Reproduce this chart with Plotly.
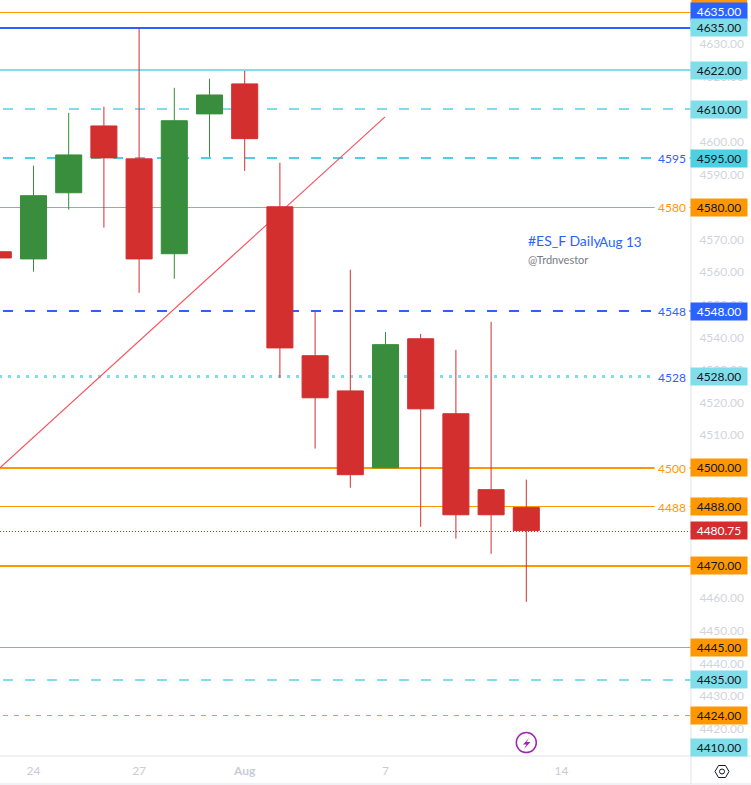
import plotly.graph_objects as go

# ---- data ----
candle_index = [-1, 0, 1, 2, 3, 4, 5, 6, 7, 8, 9, 10, 11, 12, 13, 14]
opens  = [4566.3, 4564.1, 4584.4, 4604.9, 4594.8, 4565.7, 4608.6, 4617.8, 4580.1, 4534.4, 4523.6, 4500.0, 4539.6, 4516.6, 4493.3, 4487.8]
highs  = [4566.3, 4592.7, 4608.9, 4610.8, 4635.0, 4616.6, 4619.4, 4621.8, 4593.6, 4547.9, 4560.8, 4541.7, 4541.1, 4536.2, 4544.8, 4496.4]
lows   = [4564.4, 4560.2, 4579.2, 4573.7, 4553.7, 4558.0, 4595.4, 4591.1, 4527.6, 4505.9, 4493.9, 4500.0, 4481.9, 4478.3, 4473.6, 4458.9]
closes = [4564.4, 4583.5, 4596.0, 4595.1, 4564.1, 4606.5, 4614.4, 4601.0, 4536.8, 4521.5, 4497.9, 4537.8, 4518.1, 4485.6, 4485.6, 4480.75]

date_ticks = [0, 3, 6, 10, 15]
date_labels = ["24", "27", "<b>Aug</b>", "7", "14"]
price_ticks = [4420, 4430, 4440, 4450, 4460, 4490, 4510, 4520, 4530, 4540, 4550, 4560, 4570, 4590, 4600, 4620, 4630]

ORANGE, BLUE, TEAL, CYAN, RED, GREEN = "#ff9800", "#2962ff", "#80deea", "#4dd0e1", "#d32f2f", "#388e3c"

level_prices = [4639.75, 4635, 4622, 4610, 4595, 4580, 4548, 4528, 4500, 4488, 4470, 4445, 4435, 4424]
level_colors = [ORANGE, BLUE, TEAL, TEAL, CYAN, ORANGE, BLUE, TEAL, ORANGE, ORANGE, ORANGE, ORANGE, TEAL, ORANGE]
level_widths = [1, 2, 2, 2, 2, 1, 2, 3, 2, 1, 2, 1, 2, 1]
level_dashes = ["solid", "solid", "solid", "10px,12px", "10px,12px", "solid", "10px,12px", "3px,6px", "solid", "solid", "solid", "solid", "10px,12px", "5px,6px"]

mid_label_prices = [4595, 4580, 4548, 4528, 4500, 4488]
mid_label_colors = [BLUE, ORANGE, BLUE, BLUE, ORANGE, ORANGE]

badge_prices = [4640.06, 4635, 4622, 4610, 4595, 4580, 4548, 4528, 4500, 4488, 4480.75, 4470, 4445, 4435, 4424, 4414.1]
badge_texts = ["4635.00", "4635.00", "4622.00", "4610.00", "4595.00", "4580.00", "4548.00", "4528.00", "4500.00", "4488.00", "4480.75", "4470.00", "4445.00", "4435.00", "4424.00", "4410.00"]
badge_fills = [BLUE, TEAL, TEAL, TEAL, CYAN, ORANGE, BLUE, TEAL, ORANGE, ORANGE, RED, ORANGE, ORANGE, TEAL, ORANGE, TEAL]
badge_inks = ["#ffffff", "#131722", "#131722", "#131722", "#131722", "#131722", "#ffffff", "#131722", "#131722", "#131722", "#ffffff", "#131722", "#131722", "#131722", "#131722", "#131722"]

trend_x = [-0.952, 9.986]
trend_y = [4500.0, 4607.7]
last_price_line = 4480.5
event_x, event_y = [14], [4415.7]

FONT = "Lato"
W, H = 751, 785
PW, PH = 691, 756
X0, DX = 33.5, 35.2
YP, YC, K = 4580.0, 207.1, 3.2593


def ix(px):
    return (px - X0) / DX


def pr(py):
    return YP - (py - YC) / K


def fx(px):
    return px / PW


def fy(py):
    return 1 - py / PH


fig = go.Figure()

for p, c, w, d in zip(level_prices, level_colors, level_widths, level_dashes):
    start = -19 if d != "solid" else 0
    fig.add_trace(go.Scatter(x=[ix(start), ix(PW)], y=[p, p], mode="lines", zorder=-1,
                             line=dict(color=c, width=w, dash=d), hoverinfo="skip", showlegend=False))

fig.add_trace(go.Scatter(x=[ix(0), ix(PW)], y=[last_price_line, last_price_line], mode="lines", zorder=-1,
                         line=dict(color=RED, width=1, dash="1px,2px"), hoverinfo="skip", showlegend=False))
fig.add_trace(go.Scatter(x=trend_x, y=trend_y, mode="lines", zorder=-1, line=dict(color="#f7525f", width=1.2),
                         hoverinfo="skip", showlegend=False))

fig.add_trace(go.Candlestick(
    x=candle_index, open=opens, high=highs, low=lows, close=closes, whiskerwidth=0,
    increasing=dict(line=dict(color=GREEN, width=1), fillcolor=GREEN),
    decreasing=dict(line=dict(color=RED, width=1), fillcolor=RED),
    showlegend=False))

fig.add_trace(go.Scatter(x=event_x, y=event_y, mode="markers",
                         marker=dict(symbol="circle-open", size=20, color="#9c27b0", line=dict(width=1.5, color="#9c27b0")),
                         hoverinfo="skip", showlegend=False))

ann = []
for p, c in zip(mid_label_prices, mid_label_colors):
    ann.append(dict(x=ix(671.5), y=p, xref="x", yref="y", text=str(p), showarrow=False, width=34, height=16,
                    bgcolor="#ffffff", font=dict(family=FONT, size=12, color=c), borderpad=0))
for p, t, f, i in zip(badge_prices, badge_texts, badge_fills, badge_inks):
    ann.append(dict(x=fx(719), y=p, xref="paper", yref="y", text=t, showarrow=False, width=56, height=17,
                    bgcolor=f, font=dict(family=FONT, size=12, color=i), borderpad=0, xanchor="center", yanchor="middle"))
ann.append(dict(x=fx(526), y=pr(240.5), xref="paper", yref="y", text="#ES_F Daily", showarrow=False, xanchor="left",
                font=dict(family=FONT, size=14, color=BLUE)))
ann.append(dict(x=fx(596.5), y=pr(241.5), xref="paper", yref="y", text="Aug 13", showarrow=False, xanchor="left",
                font=dict(family=FONT, size=13.5, color=BLUE)))
ann.append(dict(x=fx(526), y=pr(259), xref="paper", yref="y", text="@Trdnvestor", showarrow=False, xanchor="left",
                font=dict(family=FONT, size=11, color="#787b86")))

line_col = "#e0e3eb"
shapes = [
    dict(type="rect", xref="paper", yref="paper", x0=fx(691), x1=fx(747), y0=fy(0), y1=fy(3), fillcolor=ORANGE, line_width=0),
    dict(type="line", xref="paper", yref="paper", x0=0, x1=fx(751), y0=fy(784), y1=fy(784), line=dict(color=line_col, width=1)),
    dict(type="line", xref="paper", yref="paper", x0=fx(691), x1=fx(691), y0=fy(784), y1=fy(0), line=dict(color=line_col, width=1)),
    dict(type="line", xref="paper", yref="paper", x0=0, x1=fx(751), y0=fy(756), y1=fy(756), line=dict(color=line_col, width=1)),
]


def path(points):
    return "M " + " L ".join(f"{fx(a):.5f},{fy(b):.5f}" for a, b in points) + " Z"


shapes.append(dict(type="path", xref="paper", yref="paper",
                   path=path([(529.5, 737.5), (523, 744.5), (526.5, 744.5), (524, 749), (530.5, 742), (526.5, 742)]),
                   fillcolor="#9c27b0", line_width=0))
shapes.append(dict(type="path", xref="paper", yref="paper",
                   path=path([(715, 771.5), (718.5, 765.5), (725.5, 765.5), (729, 771.5), (725.5, 777.5), (718.5, 777.5)]),
                   fillcolor="rgba(0,0,0,0)", line=dict(color="#131722", width=1)))
shapes.append(dict(type="circle", xref="paper", yref="paper", x0=fx(719.5), x1=fx(724.5), y0=fy(774), y1=fy(769),
                   line=dict(color="#131722", width=1), fillcolor="rgba(0,0,0,0)"))

fig.update_layout(
    width=W, height=H, margin=dict(l=0, r=W - PW, t=0, b=H - PH, pad=0),
    paper_bgcolor="#ffffff", plot_bgcolor="#ffffff", boxgap=0.26, boxgroupgap=0, showlegend=False,
    annotations=ann, shapes=shapes, hovermode=False,
    xaxis=dict(range=[ix(0), ix(PW)], rangeslider=dict(visible=False), tickmode="array", tickvals=date_ticks,
               ticktext=date_labels, showgrid=False, zeroline=False, showline=False, ticks="outside", ticklen=4,
               tickcolor="rgba(0,0,0,0)", tickfont=dict(family=FONT, size=12, color="#c9ccd6")),
    yaxis=dict(range=[pr(PH), pr(0)], side="right", tickmode="array", tickvals=price_ticks,
               ticktext=[f"{v:.2f}" for v in price_ticks], showgrid=False, zeroline=False, showline=False,
               ticks="outside", ticklen=5, tickcolor="rgba(0,0,0,0)",
               tickfont=dict(family=FONT, size=12, color="#d1d4dc")),
)

crisp = """
document.body.style.margin='0';document.body.style.overflow='hidden';
document.querySelectorAll('.scatterlayer .js-line').forEach(function(e){
  if(e.getBBox().height<1){e.style.shapeRendering='crispEdges';}
});
document.querySelectorAll('.boxlayer path').forEach(function(e){e.style.shapeRendering='crispEdges';});
"""
fig.write_html("out.html", config=dict(displayModeBar=False), post_script=crisp)
